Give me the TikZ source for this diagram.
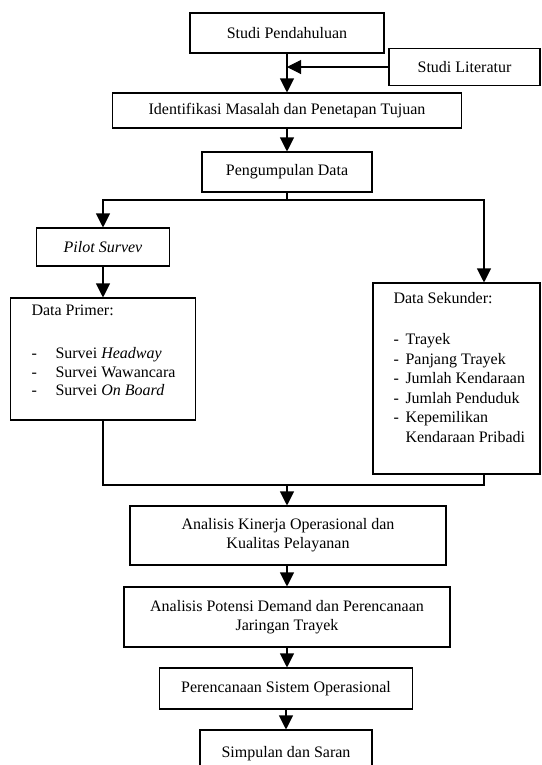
\documentclass[tikz,border=0pt]{standalone}
\usepackage{fontspec}
\setmainfont{Liberation Serif}
\usetikzlibrary{arrows.meta}
\newcommand{\dashitem}[2][18pt]{\makebox[#1][l]{-}#2}

\begin{document}
\begin{tikzpicture}[x=0.75pt, y=-0.75pt, line width=0.8pt,
        every node/.style={font=\fontsize{12}{14.5}\selectfont},
        box/.style={draw, rectangle, align=center, inner sep=2pt},
        flow/.style={-{Triangle[length=10.5pt, width=10.5pt]}}]
    \useasboundingbox (0,0) rectangle (542,765);
    \clip (0,0) rectangle (542,765);

    \node[box, minimum width=145.5pt, minimum height=30pt] at (287, 33) (studi) {Studi Pendahuluan};
    \node[box, minimum width=113.25pt, minimum height=27.75pt] at (464.5, 67) (literatur) {Studi Literatur};
    \node[box, minimum width=261.75pt, minimum height=26.25pt] at (287, 110.5) (identifikasi) {Identifikasi Masalah dan Penetapan Tujuan};
    \node[box, minimum width=127.5pt, minimum height=30pt] at (287, 172) (pengumpulan) {Pengumpulan Data};
    \node[box, minimum width=99.75pt, minimum height=28.5pt] at (103, 247) (pilot) {\textit{Pilot Survev}};
    \node[box, minimum width=138.75pt, minimum height=91.5pt] at (103, 359) (primer) {};
    \node[box, minimum width=125.25pt, minimum height=143.25pt] at (456.5, 378.5) (sekunder) {};
    \node[box, minimum width=237pt, minimum height=44.25pt] at (288, 535.5) (kinerja) {Analisis Kinerja Operasional dan\\ Kualitas Pelayanan};
    \node[box, minimum width=244.5pt, minimum height=45pt] at (287, 617) (potensi) {Analisis Potensi Demand dan Perencanaan\\ Jaringan Trayek};
    \node[box, minimum width=189.75pt, minimum height=30.75pt] at (286, 688.5) (perencanaan) {Perencanaan Sistem Operasional};
    \node[box, minimum width=129pt, minimum height=36pt] at (286, 754) (simpulan) {Simpulan dan Saran};

    % isi kotak data
    \node[anchor=north west, inner sep=0pt, align=left, font=\fontsize{12}{13.9}\selectfont] at (31, 304.5) (primertext)
        {Data Primer:\\[18.3pt]
         \dashitem{Survei \textit{Headway}}\\
         \dashitem{Survei Wawancara}\\
         \dashitem{Survei \textit{On Board}}};
    \node[anchor=north west, inner sep=0pt, align=left, font=\fontsize{12}{14.7}\selectfont] at (393, 292) (sekundertext)
        {Data Sekunder:\\[16pt]
         \dashitem[9pt]{Trayek}\\
         \dashitem[9pt]{Panjang Trayek}\\
         \dashitem[9pt]{Jumlah Kendaraan}\\
         \dashitem[9pt]{Jumlah Penduduk}\\
         \dashitem[9pt]{Kepemilikan}\\
         \hspace*{9pt}Kendaraan Pribadi};

    \coordinate (branch) at (287, 200);
    \coordinate (sekin) at ([shift={(27.5,0)}]sekunder.north);
    \coordinate (sekout) at ([shift={(27.5,0)}]sekunder.south);
    \coordinate (join) at (287, 485);

    \draw [flow] (studi) -- (identifikasi);
    \draw [flow] (literatur) -- (literatur -| studi);
    \draw [flow] (identifikasi) -- (pengumpulan);
    \draw (pengumpulan) -- (branch);
    \draw [flow] (branch) -| (pilot.north);
    \draw [flow] (branch) -| (sekin);
    \draw [flow] (pilot) -- (primer);
    \draw (primer.south) |- (join);
    \draw (sekout) |- (join);
    \draw [flow] (join) -- (join |- kinerja.north);
    \draw [flow] (kinerja.south -| potensi) -- (potensi);
    \draw [flow] (potensi) -- (potensi.south |- perencanaan.north);
    \draw [flow] (perencanaan) -- (simpulan);
\end{tikzpicture}
\end{document}
